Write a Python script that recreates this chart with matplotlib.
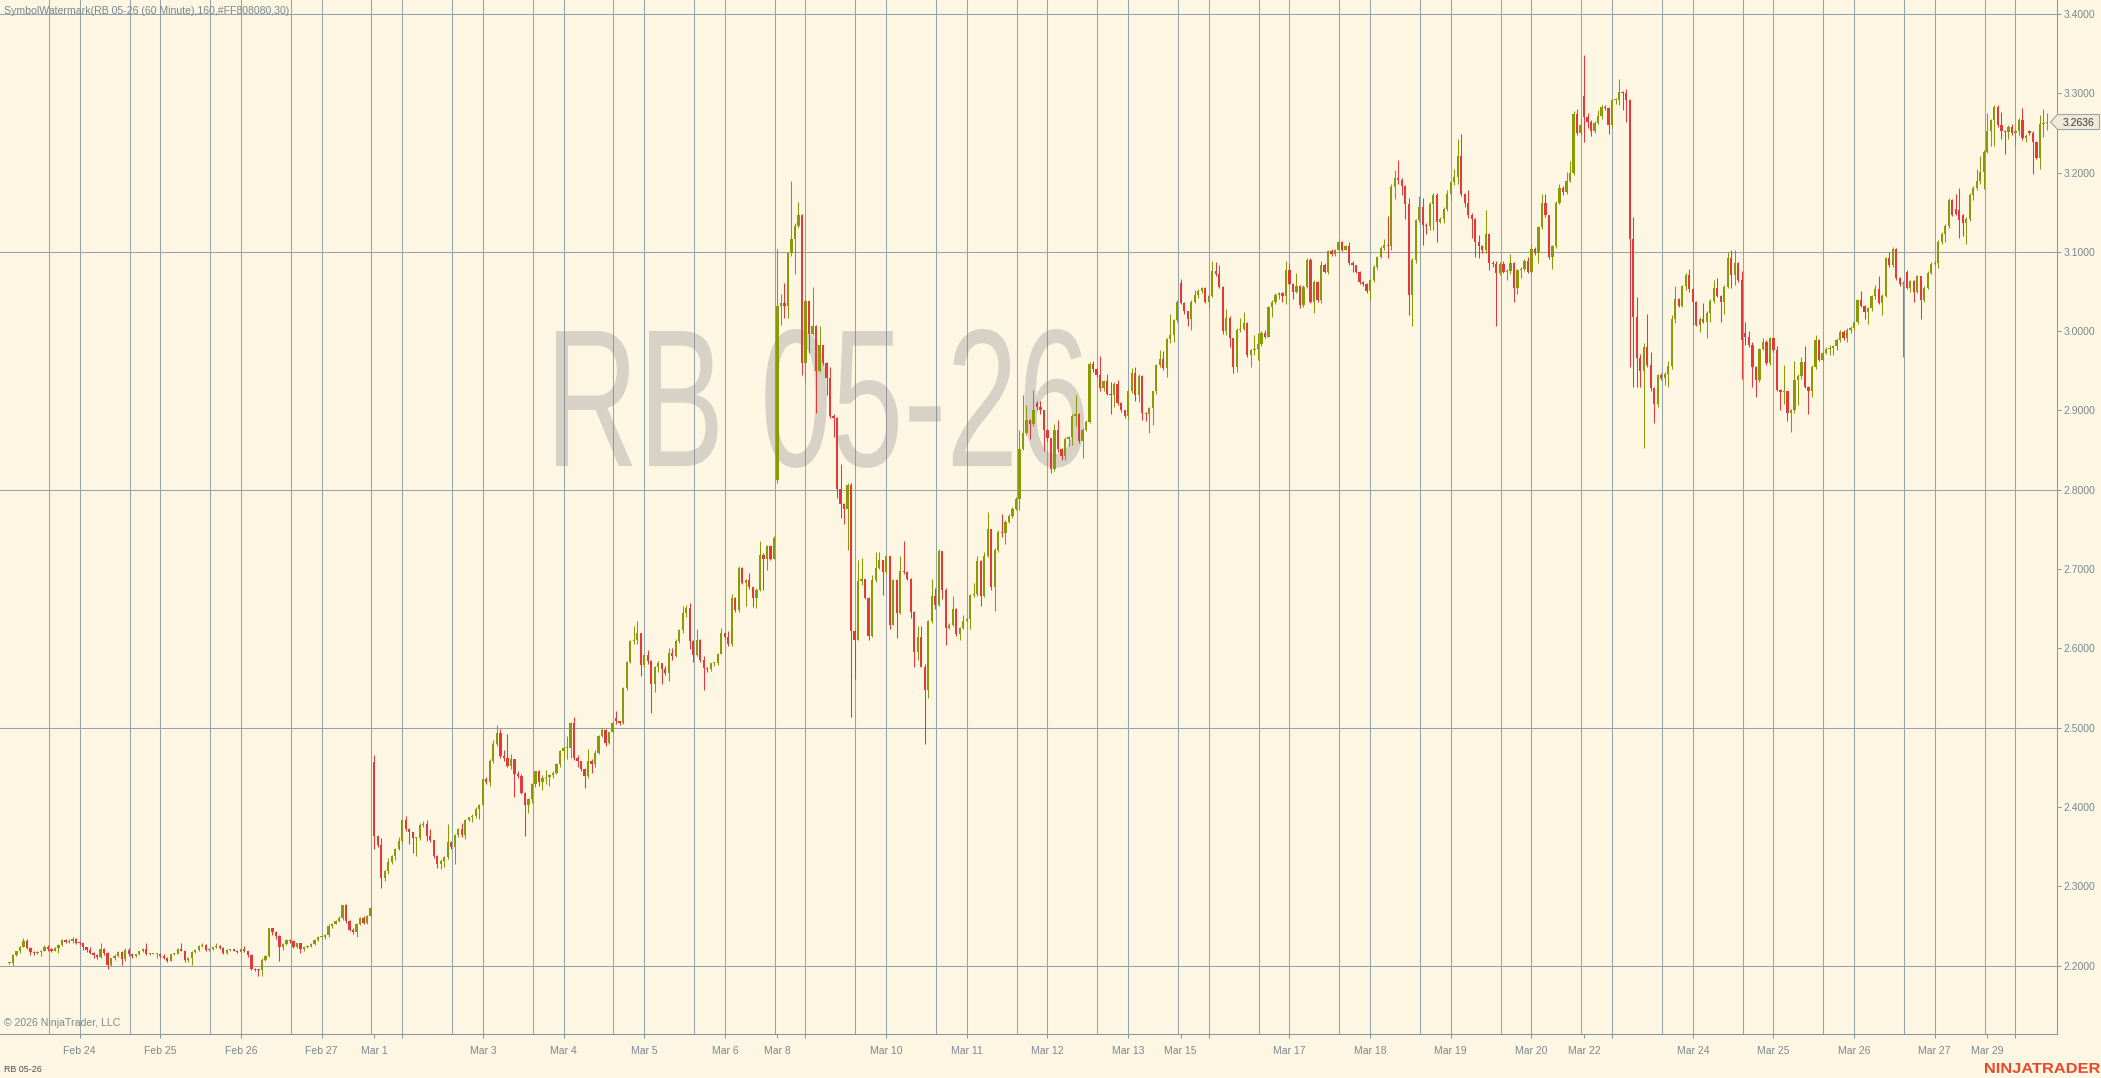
import numpy as np
import matplotlib
matplotlib.use("Agg")
import matplotlib.pyplot as plt
from matplotlib.font_manager import FontProperties
from matplotlib.patches import PathPatch, Polygon
from matplotlib.textpath import TextPath
from matplotlib.transforms import Affine2D, IdentityTransform

# ---------------- data: RB 05-26, 60 minute bars ----------------
closes = [
    2.203, 2.213, 2.218, 2.224, 2.231, 2.222, 2.217, 2.216, 2.217, 2.219,
    2.224, 2.221, 2.219, 2.222, 2.226, 2.232, 2.230, 2.231, 2.234, 2.229,
    2.228, 2.224, 2.220, 2.216, 2.213, 2.211, 2.221, 2.216, 2.201, 2.209,
    2.212, 2.217, 2.208, 2.220, 2.214, 2.212, 2.214, 2.218, 2.221, 2.214,
    2.215, 2.215, 2.215, 2.212, 2.210, 2.206, 2.214, 2.215, 2.221, 2.219,
    2.207, 2.209, 2.217, 2.220, 2.225, 2.226, 2.220, 2.221, 2.223, 2.225,
    2.222, 2.216, 2.220, 2.220, 2.219, 2.217, 2.221, 2.218, 2.213, 2.196,
    2.195, 2.194, 2.207, 2.212, 2.247, 2.242, 2.237, 2.223, 2.227, 2.232,
    2.231, 2.224, 2.228, 2.221, 2.223, 2.225, 2.227, 2.232, 2.236, 2.236,
    2.239, 2.250, 2.253, 2.256, 2.260, 2.276, 2.256, 2.245, 2.242, 2.253,
    2.260, 2.254, 2.262, 2.272, 2.363, 2.352, 2.311, 2.319, 2.331, 2.338,
    2.347, 2.357, 2.384, 2.372, 2.368, 2.361, 2.361, 2.377, 2.379, 2.364,
    2.358, 2.338, 2.328, 2.332, 2.337, 2.356, 2.349, 2.365, 2.372, 2.365,
    2.384, 2.387, 2.389, 2.398, 2.403, 2.435, 2.431, 2.458, 2.479, 2.493,
    2.464, 2.462, 2.452, 2.460, 2.441, 2.439, 2.418, 2.402, 2.410, 2.429,
    2.445, 2.431, 2.436, 2.438, 2.440, 2.443, 2.454, 2.471, 2.474, 2.475,
    2.506, 2.462, 2.458, 2.448, 2.439, 2.458, 2.454, 2.468, 2.490, 2.497,
    2.481, 2.494, 2.506, 2.508, 2.506, 2.550, 2.583, 2.609, 2.611, 2.619,
    2.579, 2.592, 2.584, 2.555, 2.576, 2.581, 2.574, 2.569, 2.594, 2.591,
    2.609, 2.623, 2.645, 2.651, 2.609, 2.592, 2.611, 2.585, 2.575, 2.574,
    2.581, 2.582, 2.593, 2.619, 2.614, 2.605, 2.664, 2.648, 2.702, 2.683,
    2.686, 2.677, 2.664, 2.674, 2.718, 2.713, 2.729, 2.713, 2.739, 3.032,
    3.036, 3.032, 3.098, 3.116, 3.133, 3.146, 2.960, 3.038, 2.997, 3.007,
    2.950, 2.982, 2.960, 2.941, 2.893, 2.891, 2.801, 2.782, 2.776, 2.806,
    2.622, 2.611, 2.685, 2.687, 2.664, 2.616, 2.686, 2.702, 2.711, 2.696,
    2.716, 2.630, 2.686, 2.645, 2.698, 2.696, 2.688, 2.646, 2.595, 2.614,
    2.577, 2.547, 2.634, 2.666, 2.655, 2.723, 2.674, 2.626, 2.630, 2.650,
    2.618, 2.626, 2.635, 2.637, 2.667, 2.668, 2.710, 2.666, 2.717, 2.750,
    2.678, 2.724, 2.747, 2.745, 2.760, 2.767, 2.776, 2.789, 2.851, 2.871,
    2.888, 2.883, 2.901, 2.905, 2.900, 2.876, 2.865, 2.826, 2.876, 2.852,
    2.842, 2.864, 2.866, 2.893, 2.896, 2.861, 2.876, 2.886, 2.959, 2.952,
    2.945, 2.928, 2.937, 2.921, 2.920, 2.934, 2.909, 2.900, 2.893, 2.924,
    2.947, 2.920, 2.944, 2.897, 2.896, 2.903, 2.924, 2.957, 2.965, 2.954,
    2.990, 2.995, 3.014, 3.037, 3.036, 3.025, 3.016, 3.037, 3.046, 3.051,
    3.054, 3.037, 3.045, 3.076, 3.072, 3.056, 3.000, 3.017, 2.991, 2.955,
    3.002, 3.003, 3.010, 2.970, 2.976, 2.977, 2.984, 2.998, 2.993, 3.030,
    3.037, 3.046, 3.048, 3.044, 3.077, 3.060, 3.050, 3.057, 3.033, 3.056,
    3.090, 3.037, 3.062, 3.039, 3.084, 3.075, 3.101, 3.097, 3.102, 3.112,
    3.103, 3.107, 3.086, 3.083, 3.075, 3.062, 3.059, 3.051, 3.064, 3.081,
    3.093, 3.105, 3.109, 3.107, 3.182, 3.193, 3.191, 3.183, 3.161, 3.046,
    3.090, 3.140, 3.157, 3.134, 3.133, 3.161, 3.172, 3.138, 3.142, 3.154,
    3.173, 3.188, 3.195, 3.221, 3.173, 3.162, 3.146, 3.142, 3.112, 3.107,
    3.103, 3.123, 3.086, 3.085, 3.073, 3.085, 3.075, 3.076, 3.086, 3.054,
    3.077, 3.079, 3.089, 3.075, 3.104, 3.098, 3.131, 3.162, 3.146, 3.093,
    3.107, 3.162, 3.181, 3.175, 3.190, 3.199, 3.274, 3.250, 3.260, 3.270,
    3.264, 3.252, 3.263, 3.271, 3.283, 3.281, 3.260, 3.291, 3.292, 3.302,
    3.300, 3.292, 3.116, 3.018, 2.966, 2.950, 2.980, 2.958, 2.928, 2.908,
    2.945, 2.941, 2.946, 2.956, 3.016, 3.040, 3.032, 3.057, 3.071, 3.053,
    3.037, 3.008, 3.016, 3.012, 3.023, 3.038, 3.055, 3.045, 3.037, 3.056,
    3.092, 3.071, 3.086, 3.064, 2.989, 2.993, 2.983, 2.955, 2.939, 2.977,
    2.987, 2.960, 2.991, 2.976, 2.926, 2.923, 2.924, 2.897, 2.900, 2.938,
    2.943, 2.961, 2.930, 2.924, 2.955, 2.989, 2.964, 2.973, 2.977, 2.979,
    2.981, 2.989, 2.999, 2.991, 3.002, 3.004, 3.011, 3.039, 3.032, 3.024,
    3.029, 3.044, 3.053, 3.036, 3.045, 3.092, 3.083, 3.104, 3.067, 3.059,
    3.061, 3.055, 3.063, 3.050, 3.069, 3.039, 3.055, 3.074, 3.085, 3.086,
    3.113, 3.123, 3.133, 3.165, 3.147, 3.148, 3.140, 3.136, 3.142, 3.172,
    3.181, 3.189, 3.201, 3.226, 3.252, 3.266, 3.283, 3.260, 3.253, 3.251,
    3.258, 3.250, 3.253, 3.266, 3.243, 3.246, 3.250, 3.239, 3.219, 3.261,
    3.263, 3.2636,
]

highs = [
    2.204, 2.214, 2.219, 2.225, 2.235, 2.234, 2.224, 2.218, 2.218, 2.220,
    2.226, 2.226, 2.222, 2.223, 2.227, 2.233, 2.234, 2.233, 2.236, 2.235,
    2.230, 2.229, 2.223, 2.223, 2.217, 2.214, 2.229, 2.222, 2.217, 2.210,
    2.214, 2.219, 2.218, 2.222, 2.222, 2.215, 2.215, 2.219, 2.222, 2.228,
    2.216, 2.216, 2.216, 2.216, 2.215, 2.211, 2.215, 2.216, 2.222, 2.228,
    2.220, 2.211, 2.218, 2.221, 2.226, 2.228, 2.227, 2.222, 2.224, 2.229,
    2.226, 2.223, 2.221, 2.221, 2.221, 2.220, 2.222, 2.225, 2.219, 2.214,
    2.197, 2.196, 2.209, 2.213, 2.248, 2.248, 2.244, 2.238, 2.228, 2.233,
    2.234, 2.232, 2.229, 2.229, 2.224, 2.226, 2.228, 2.233, 2.237, 2.238,
    2.240, 2.252, 2.254, 2.258, 2.262, 2.277, 2.278, 2.258, 2.248, 2.254,
    2.261, 2.262, 2.264, 2.274, 2.466, 2.364, 2.361, 2.321, 2.336, 2.340,
    2.348, 2.362, 2.385, 2.389, 2.373, 2.369, 2.362, 2.380, 2.382, 2.383,
    2.372, 2.359, 2.339, 2.334, 2.338, 2.379, 2.357, 2.366, 2.373, 2.380,
    2.385, 2.388, 2.391, 2.400, 2.404, 2.437, 2.438, 2.460, 2.484, 2.503,
    2.498, 2.472, 2.492, 2.467, 2.461, 2.446, 2.441, 2.419, 2.411, 2.430,
    2.446, 2.447, 2.440, 2.447, 2.441, 2.445, 2.455, 2.472, 2.477, 2.489,
    2.507, 2.514, 2.466, 2.458, 2.449, 2.473, 2.460, 2.472, 2.491, 2.499,
    2.498, 2.495, 2.507, 2.521, 2.509, 2.551, 2.584, 2.611, 2.628, 2.634,
    2.620, 2.593, 2.598, 2.585, 2.578, 2.584, 2.582, 2.578, 2.600, 2.600,
    2.612, 2.625, 2.653, 2.655, 2.657, 2.610, 2.625, 2.612, 2.590, 2.576,
    2.582, 2.583, 2.594, 2.626, 2.620, 2.622, 2.669, 2.665, 2.704, 2.703,
    2.688, 2.695, 2.678, 2.676, 2.735, 2.720, 2.731, 2.730, 2.742, 3.104,
    3.047, 3.061, 3.100, 3.190, 3.136, 3.163, 3.148, 3.040, 3.036, 3.056,
    3.008, 3.007, 2.983, 2.961, 2.955, 2.895, 2.892, 2.832, 2.783, 2.808,
    2.808, 2.623, 2.712, 2.714, 2.688, 2.665, 2.693, 2.722, 2.722, 2.712,
    2.718, 2.717, 2.688, 2.687, 2.716, 2.735, 2.697, 2.689, 2.647, 2.628,
    2.628, 2.580, 2.636, 2.688, 2.676, 2.725, 2.723, 2.676, 2.632, 2.666,
    2.651, 2.627, 2.642, 2.639, 2.669, 2.682, 2.717, 2.711, 2.722, 2.772,
    2.751, 2.726, 2.749, 2.770, 2.762, 2.769, 2.778, 2.791, 2.875, 2.920,
    2.907, 2.889, 2.926, 2.912, 2.912, 2.901, 2.877, 2.855, 2.883, 2.888,
    2.853, 2.866, 2.868, 2.895, 2.920, 2.897, 2.878, 2.888, 2.961, 2.963,
    2.953, 2.969, 2.939, 2.946, 2.936, 2.936, 2.939, 2.911, 2.901, 2.926,
    2.953, 2.955, 2.946, 2.945, 2.898, 2.904, 2.925, 2.959, 2.976, 2.975,
    2.992, 3.022, 3.016, 3.039, 3.066, 3.037, 3.026, 3.039, 3.052, 3.053,
    3.056, 3.056, 3.047, 3.088, 3.087, 3.084, 3.057, 3.028, 3.019, 2.992,
    3.004, 3.017, 3.024, 3.011, 2.978, 2.995, 2.998, 3.000, 3.001, 3.032,
    3.039, 3.048, 3.050, 3.049, 3.088, 3.086, 3.061, 3.073, 3.058, 3.058,
    3.092, 3.092, 3.064, 3.063, 3.088, 3.086, 3.103, 3.104, 3.104, 3.116,
    3.114, 3.109, 3.112, 3.089, 3.084, 3.076, 3.063, 3.061, 3.066, 3.083,
    3.095, 3.107, 3.116, 3.145, 3.186, 3.203, 3.216, 3.193, 3.184, 3.168,
    3.092, 3.142, 3.170, 3.168, 3.136, 3.163, 3.174, 3.174, 3.144, 3.156,
    3.178, 3.190, 3.205, 3.242, 3.249, 3.174, 3.178, 3.149, 3.143, 3.121,
    3.109, 3.153, 3.124, 3.088, 3.089, 3.087, 3.089, 3.078, 3.097, 3.087,
    3.079, 3.081, 3.091, 3.094, 3.110, 3.106, 3.133, 3.173, 3.173, 3.147,
    3.109, 3.164, 3.186, 3.183, 3.201, 3.214, 3.278, 3.280, 3.268, 3.348,
    3.275, 3.266, 3.265, 3.279, 3.285, 3.285, 3.283, 3.293, 3.294, 3.318,
    3.303, 3.305, 3.293, 3.144, 3.043, 2.971, 2.985, 3.022, 2.974, 2.929,
    2.946, 2.947, 2.948, 2.962, 3.020, 3.057, 3.042, 3.058, 3.073, 3.079,
    3.054, 3.038, 3.018, 3.035, 3.025, 3.040, 3.065, 3.067, 3.046, 3.058,
    3.100, 3.103, 3.102, 3.087, 3.076, 3.011, 3.000, 2.986, 2.956, 2.979,
    2.992, 2.989, 2.993, 2.988, 2.981, 2.927, 2.958, 2.925, 2.902, 2.962,
    2.946, 2.968, 2.981, 2.931, 2.957, 2.995, 2.990, 2.975, 2.980, 2.982,
    2.983, 2.991, 3.001, 3.001, 3.004, 3.006, 3.012, 3.041, 3.051, 3.033,
    3.031, 3.046, 3.058, 3.069, 3.047, 3.094, 3.100, 3.106, 3.105, 3.068,
    3.063, 3.077, 3.065, 3.064, 3.071, 3.070, 3.057, 3.076, 3.087, 3.088,
    3.115, 3.125, 3.135, 3.168, 3.167, 3.173, 3.181, 3.148, 3.144, 3.174,
    3.183, 3.205, 3.221, 3.228, 3.275, 3.268, 3.285, 3.285, 3.277, 3.254,
    3.260, 3.261, 3.255, 3.269, 3.281, 3.249, 3.254, 3.252, 3.240, 3.273,
    3.280, 3.275,
]

lows = [
    2.202, 2.200, 2.212, 2.216, 2.223, 2.221, 2.213, 2.213, 2.215, 2.212,
    2.219, 2.219, 2.217, 2.218, 2.216, 2.225, 2.229, 2.229, 2.229, 2.227,
    2.226, 2.220, 2.217, 2.214, 2.210, 2.208, 2.210, 2.213, 2.196, 2.199,
    2.207, 2.211, 2.201, 2.206, 2.212, 2.210, 2.211, 2.213, 2.217, 2.213,
    2.213, 2.214, 2.210, 2.209, 2.208, 2.205, 2.206, 2.213, 2.214, 2.218,
    2.205, 2.205, 2.201, 2.216, 2.219, 2.224, 2.219, 2.219, 2.220, 2.222,
    2.221, 2.214, 2.215, 2.218, 2.218, 2.216, 2.216, 2.217, 2.211, 2.194,
    2.193, 2.187, 2.187, 2.206, 2.211, 2.238, 2.234, 2.206, 2.220, 2.226,
    2.229, 2.222, 2.222, 2.216, 2.219, 2.222, 2.224, 2.226, 2.231, 2.235,
    2.234, 2.236, 2.248, 2.252, 2.255, 2.258, 2.254, 2.243, 2.240, 2.236,
    2.251, 2.252, 2.252, 2.261, 2.347, 2.350, 2.298, 2.307, 2.315, 2.328,
    2.333, 2.346, 2.355, 2.370, 2.353, 2.342, 2.338, 2.358, 2.375, 2.357,
    2.356, 2.336, 2.323, 2.322, 2.324, 2.335, 2.347, 2.328, 2.362, 2.362,
    2.360, 2.382, 2.381, 2.386, 2.385, 2.402, 2.429, 2.426, 2.456, 2.477,
    2.462, 2.458, 2.450, 2.448, 2.413, 2.436, 2.416, 2.364, 2.393, 2.405,
    2.425, 2.427, 2.421, 2.429, 2.427, 2.437, 2.441, 2.450, 2.459, 2.461,
    2.462, 2.459, 2.450, 2.445, 2.424, 2.437, 2.443, 2.450, 2.467, 2.488,
    2.477, 2.479, 2.493, 2.505, 2.503, 2.505, 2.548, 2.581, 2.605, 2.606,
    2.565, 2.577, 2.580, 2.518, 2.545, 2.570, 2.555, 2.567, 2.559, 2.585,
    2.589, 2.607, 2.620, 2.640, 2.599, 2.583, 2.590, 2.583, 2.547, 2.570,
    2.572, 2.578, 2.579, 2.593, 2.612, 2.603, 2.603, 2.646, 2.646, 2.681,
    2.654, 2.675, 2.652, 2.651, 2.672, 2.674, 2.699, 2.711, 2.713, 2.809,
    3.008, 3.017, 3.017, 3.095, 3.072, 3.130, 2.945, 2.936, 2.972, 2.995,
    2.897, 2.948, 2.957, 2.920, 2.890, 2.867, 2.790, 2.764, 2.757, 2.724,
    2.514, 2.562, 2.610, 2.680, 2.662, 2.610, 2.614, 2.684, 2.700, 2.667,
    2.694, 2.624, 2.629, 2.613, 2.643, 2.694, 2.686, 2.638, 2.577, 2.585,
    2.576, 2.479, 2.537, 2.632, 2.650, 2.653, 2.662, 2.604, 2.624, 2.628,
    2.616, 2.610, 2.624, 2.633, 2.624, 2.665, 2.666, 2.654, 2.665, 2.715,
    2.674, 2.647, 2.722, 2.741, 2.732, 2.758, 2.765, 2.774, 2.775, 2.850,
    2.869, 2.864, 2.880, 2.900, 2.896, 2.849, 2.862, 2.821, 2.824, 2.848,
    2.838, 2.838, 2.855, 2.856, 2.880, 2.859, 2.840, 2.874, 2.884, 2.949,
    2.942, 2.925, 2.924, 2.919, 2.896, 2.905, 2.907, 2.898, 2.890, 2.889,
    2.922, 2.912, 2.911, 2.888, 2.887, 2.871, 2.882, 2.921, 2.955, 2.951,
    2.942, 2.985, 2.987, 3.012, 3.034, 3.022, 3.006, 3.002, 3.035, 3.042,
    3.048, 3.035, 3.030, 3.043, 3.069, 3.054, 2.997, 2.995, 2.980, 2.947,
    2.949, 2.999, 3.001, 2.967, 2.955, 2.970, 2.964, 2.981, 2.991, 2.993,
    3.018, 3.034, 3.040, 3.037, 3.034, 3.058, 3.041, 3.048, 3.029, 3.031,
    3.054, 3.035, 3.023, 3.037, 3.036, 3.073, 3.072, 3.095, 3.095, 3.100,
    3.101, 3.102, 3.084, 3.075, 3.073, 3.060, 3.057, 3.048, 3.039, 3.062,
    3.078, 3.092, 3.103, 3.092, 3.103, 3.167, 3.186, 3.172, 3.142, 3.020,
    3.006, 3.086, 3.138, 3.109, 3.123, 3.128, 3.127, 3.113, 3.136, 3.137,
    3.151, 3.165, 3.184, 3.185, 3.170, 3.156, 3.143, 3.117, 3.094, 3.092,
    3.099, 3.099, 3.077, 3.081, 3.007, 3.071, 3.073, 3.064, 3.072, 3.037,
    3.047, 3.067, 3.076, 3.073, 3.072, 3.096, 3.086, 3.129, 3.144, 3.091,
    3.078, 3.105, 3.160, 3.172, 3.173, 3.188, 3.197, 3.247, 3.248, 3.238,
    3.256, 3.246, 3.250, 3.261, 3.268, 3.279, 3.249, 3.258, 3.287, 3.285,
    3.279, 3.264, 2.955, 2.930, 2.930, 2.930, 2.853, 2.955, 2.925, 2.884,
    2.905, 2.939, 2.932, 2.930, 2.952, 3.010, 3.030, 3.030, 3.052, 3.050,
    3.008, 3.006, 2.999, 3.010, 2.991, 3.012, 3.036, 3.043, 3.012, 3.022,
    3.054, 3.054, 3.058, 3.062, 2.940, 2.983, 2.980, 2.930, 2.917, 2.936,
    2.976, 2.958, 2.958, 2.974, 2.925, 2.900, 2.908, 2.887, 2.873, 2.897,
    2.907, 2.940, 2.928, 2.896, 2.917, 2.952, 2.962, 2.962, 2.971, 2.970,
    2.970, 2.976, 2.986, 2.989, 2.987, 2.998, 3.000, 3.009, 3.030, 3.016,
    3.009, 3.025, 3.040, 3.034, 3.020, 3.043, 3.081, 3.081, 3.065, 3.057,
    2.968, 3.053, 3.050, 3.037, 3.048, 3.016, 3.037, 3.053, 3.072, 3.082,
    3.080, 3.110, 3.112, 3.130, 3.145, 3.146, 3.117, 3.120, 3.110, 3.139,
    3.165, 3.178, 3.186, 3.179, 3.225, 3.233, 3.233, 3.258, 3.242, 3.224,
    3.242, 3.248, 3.234, 3.248, 3.241, 3.239, 3.248, 3.198, 3.217, 3.204,
    3.245, 3.254,
]

# bars whose open is not the previous close (session gaps)
gap_opens = {0: 2.203, 104: 2.457, 173: 2.512, 219: 2.812, 293: 2.909, 334: 3.061,
             449: 3.297, 495: 2.998, 541: 3.075, 555: 3.154, 556: 3.153, 557: 3.147,
             576: 3.252}

tick_pos = [20, 43, 66, 89, 104, 112, 135, 158, 181, 204, 219, 227, 250, 273, 296,
            319, 334, 342, 365, 388, 411, 434, 449, 457, 480, 503, 526, 549, 564, 572]
tick_labels = ['Feb 24', 'Feb 25', 'Feb 26', 'Feb 27', 'Mar 1', '', 'Mar 3', 'Mar 4',
               'Mar 5', 'Mar 6', 'Mar 8', '', 'Mar 10', 'Mar 11', 'Mar 12', 'Mar 13',
               'Mar 15', '', 'Mar 17', 'Mar 18', 'Mar 19', 'Mar 20', 'Mar 22', '',
               'Mar 24', 'Mar 25', 'Mar 26', 'Mar 27', 'Mar 29', '']
price_ticks = [2.2, 2.3, 2.4, 2.5, 2.6, 2.7, 2.8, 2.9, 3.0, 3.1, 3.2, 3.3, 3.4]
grid_prices = [2.2, 2.5, 2.8, 3.1, 3.4]
last_price = 3.2636

# ---------------- style ----------------
W, H = 2101, 1078
BG = '#fdf6e3'
UP = '#8a9a06'
DN = '#e23a3a'
GRID = '#95a3ab'
AXIS = '#8797a0'
LBL = '#7b8891'
plt.rcParams['font.family'] = ['Liberation Sans', 'DejaVu Sans']

fig = plt.figure(figsize=(W / 100, H / 100), dpi=100, facecolor=BG)
ax = fig.add_axes([0, 44 / H, 2057 / W, 1034 / H], facecolor=BG)

# grid: session breaks and midnights, every 23 bars
for k in range(25):
    ax.axvline(11.25 + 23 * k, color=GRID, lw=0.75, zorder=1)
    ax.axvline(20 + 23 * k, color=GRID, lw=0.75, zorder=1)
for p in grid_prices:
    ax.axhline(p, color=GRID, lw=0.75, zorder=1)


def fitted_text(s, box, color, alpha=1.0, weight='normal', z=2, target=None):
    # draw s as a path stretched to box = (left, top, right, bottom) in pixels
    left, top, right, bottom = box
    tp = TextPath((0, 0), s, size=100,
                  prop=FontProperties(family='Liberation Sans', weight=weight))
    bb = tp.get_extents()
    tr = (Affine2D().translate(-bb.x0, -bb.y0)
          .scale((right - left) / bb.width, (bottom - top) / bb.height)
          .translate(left, H - bottom))
    patch = PathPatch(tr.transform_path(tp), facecolor=color, edgecolor='none',
                      alpha=alpha, transform=IdentityTransform(), zorder=z)
    if target is None:
        fig.add_artist(patch)
    else:
        target.add_patch(patch)


# watermark
fitted_text('RB 05-26', (556, 329, 1084, 468), '#808080', alpha=0.3, z=2, target=ax)

# candles
c = np.array(closes)
o = np.r_[c[0], c[:-1]]
for i, v in gap_opens.items():
    o[i] = v
hi = np.maximum(np.array(highs), np.maximum(o, c))
lo = np.minimum(np.array(lows), np.minimum(o, c))
x = np.arange(len(c))
cols = np.where(c >= o, UP, DN)
ax.vlines(x, lo, hi, colors=cols, lw=0.75, zorder=3)
ax.bar(x, np.maximum(np.abs(c - o), 0.0013), bottom=np.minimum(o, c), width=0.64,
       color=cols, linewidth=0, zorder=4)

ax.set_xlim(-2.68, 583.86)
ax.set_ylim(2.11374, 3.41765)

# axes
for s in ['top', 'left']:
    ax.spines[s].set_visible(False)
for s in ['right', 'bottom']:
    ax.spines[s].set_color(AXIS)
    ax.spines[s].set_linewidth(0.75)
ax.yaxis.tick_right()
ax.set_yticks(price_ticks)
ax.set_yticklabels([f'{v:.4f}' for v in price_ticks])
ax.tick_params(axis='y', length=3, width=0.75, color=AXIS, labelcolor=LBL,
               labelsize=7.5, pad=1.5)
ax.set_xticks(tick_pos)
ax.set_xticklabels(tick_labels)
ax.tick_params(axis='x', length=3, width=0.75, color=AXIS, labelcolor=LBL,
               labelsize=7.5, pad=5.5)

# last price tag
tag = [(2050.5, H - 122), (2057.5, H - 114.5), (2099.5, H - 114.5),
       (2099.5, H - 129.5), (2057.5, H - 129.5)]
fig.add_artist(Polygon(tag, closed=True, transform=IdentityTransform(),
                       facecolor='#efe9d9', edgecolor='#9aa5a8', lw=0.8, zorder=5))
fig.text(2063 / W, 1 - 122 / H, f'{last_price:.4f}', fontsize=7.5, color='#3a3a3a',
         va='center_baseline', ha='left', zorder=6)

# captions
fig.text(4 / W, 1 - 13.5 / H, 'SymbolWatermark(RB 05-26 (60 Minute),160,#FF808080,30)',
         fontsize=7.6, color='#778791', va='baseline')
fig.text(4 / W, 1 - 1026 / H, '\u00a9 2026 NinjaTrader, LLC', fontsize=7.6,
         color='#7d8a92', va='baseline')
fig.text(4 / W, 1 - 1071.5 / H, 'RB 05-26', fontsize=6.4, color='#4d4d4d', va='baseline')
fitted_text('NINJATRADER', (1985, 1063, 2100, 1073), '#e8482c', weight='bold', z=5)

fig.savefig('out.png', dpi=100, facecolor=BG)
